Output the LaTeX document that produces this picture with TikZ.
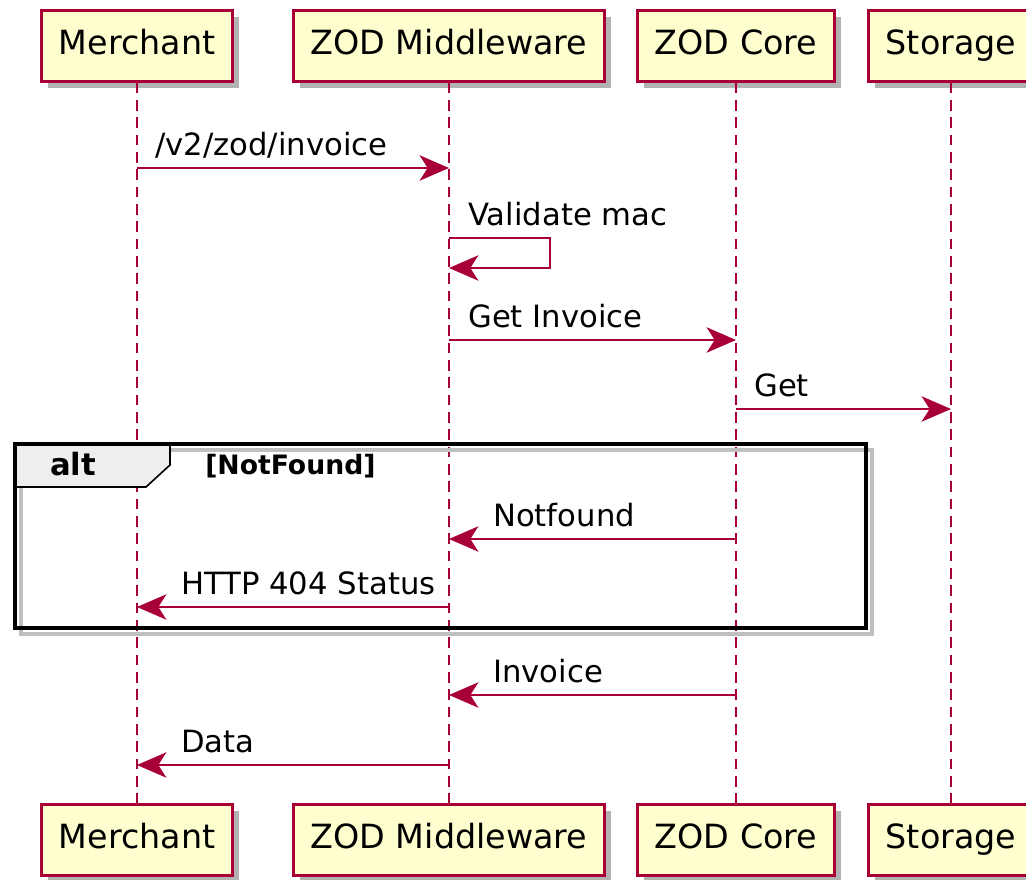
\documentclass[tikz,border=0pt]{standalone}
\usepackage{fontspec}
\setmainfont{DejaVu Sans}
\usetikzlibrary{arrows.meta,positioning,shadows}
\definecolor{umlred}{HTML}{A80036}
\definecolor{umlfill}{HTML}{FEFECE}
\definecolor{umltab}{HTML}{EEEEEE}
\tikzset{>={Stealth[length=22pt,width=19pt,inset=6pt]},
         actor/.style={draw=umlred, fill=umlfill, line width=2.2pt,
           font=\fontsize{25}{30}\selectfont, minimum height=53pt,
           inner xsep=13pt, text height=19pt, text depth=6pt,
           drop shadow={shadow xshift=5pt, shadow yshift=-5pt, fill=black, opacity=0.3}},
         life/.style={umlred, line width=1.8pt, dash pattern=on 8pt off 5pt},
         msg/.style={umlred, line width=1.8pt, ->},
         lbl/.style={font=\fontsize{23}{28}\selectfont, anchor=base west, inner sep=0pt}}

\begin{document}
\begin{tikzpicture}[x=0.75pt, y=-0.75pt]
	\useasboundingbox (0,0) rectangle (1026,880);

	% participants, top and bottom
	\node[actor] (mer)  at (137,46) {Merchant};
	\node[actor] (mid)  at (449,46) {ZOD Middleware};
	\node[actor] (core) at (736,46) {ZOD Core};
	\node[actor] (sto)  at (951,46) {Storage};
	\node[actor] (mer-bot)  at (137,840) {Merchant};
	\node[actor] (mid-bot)  at (449,840) {ZOD Middleware};
	\node[actor] (core-bot) at (736,840) {ZOD Core};
	\node[actor] (sto-bot)  at (951,840) {Storage};
	\foreach \p in {mer,mid,core,sto}
		\draw[life] (\p.south) -- (\p-bot.north);

	% message rows
	\coordinate (r1) at (0,168);
	\coordinate (r2) at (0,238);
	\coordinate (r2b) at (0,268);
	\coordinate (r3) at (0,340);
	\coordinate (r4) at (0,409);
	\coordinate (r5) at (0,539);
	\coordinate (r6) at (0,607);
	\coordinate (r7) at (0,695);
	\coordinate (r8) at (0,765);
	\coordinate (self) at (550,0);

	% alt frame
	\draw[black!25, line width=3.5pt] (21,450) rectangle (872,634);
	\draw[fill=umltab, line width=1.2pt] (15,444) -- (170,444) -- (170,465) -- (146,487) -- (15,487) -- cycle;
	\draw[line width=3.5pt] (15,444) rectangle (866,628);
	\node[font=\fontsize{23}{28}\selectfont\bfseries, anchor=base, inner sep=0pt] (alt) at (73,476) {alt};
	\node[font=\fontsize{20}{24}\selectfont\bfseries, anchor=base west, inner sep=0pt] (cond) at (205,475) {[NotFound]};

	% messages
	\draw[msg] (mer |- r1) -- (mid |- r1);
	\node[lbl] (m1) at (155,156) {/v2/zod/invoice};
	\draw[msg] (mid |- r2) -- (self |- r2) -- (self |- r2b) -- (mid |- r2b);
	\node[lbl] (m2) at (468,226) {Validate mac};
	\draw[msg] (mid |- r3) -- (core |- r3);
	\node[lbl] (m3) at (468,328) {Get Invoice};
	\draw[msg] (core |- r4) -- (sto |- r4);
	\node[lbl] (m4) at (754,397) {Get};
	\draw[msg] (core |- r5) -- (mid |- r5);
	\node[lbl] (m5) at (493,527) {Notfound};
	\draw[msg] (mid |- r6) -- (mer |- r6);
	\node[lbl] (m6) at (181,595) {HTTP 404 Status};
	\draw[msg] (core |- r7) -- (mid |- r7);
	\node[lbl] (m7) at (493,683) {Invoice};
	\draw[msg] (mid |- r8) -- (mer |- r8);
	\node[lbl] (m8) at (181,753) {Data};
\end{tikzpicture}
\end{document}
